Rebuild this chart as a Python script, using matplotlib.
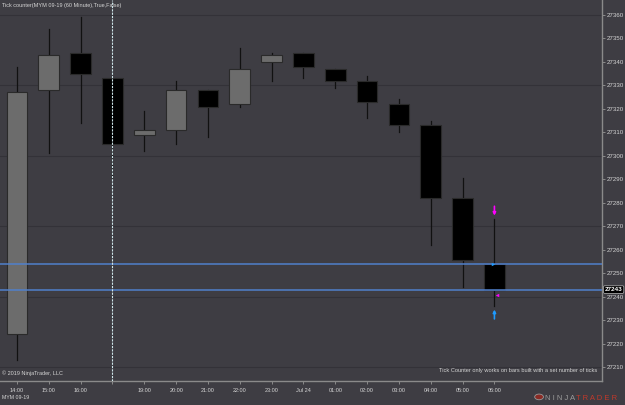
import matplotlib
matplotlib.use('Agg')
import matplotlib.pyplot as plt
from matplotlib.patches import Rectangle, Circle

# hourly MYM 09-19 candles (open, high, low, close)
opens = [27224, 27328, 27344, 27333, 27309, 27311, 27328, 27322, 27340, 27344, 27337, 27332, 27322, 27313, 27282, 27254]
highs = [27338, 27354, 27359, 27334, 27319, 27332, 27328, 27346, 27344, 27344, 27337, 27334, 27324, 27315, 27290.5, 27273]
lows = [27213, 27301, 27314, 27290.5, 27302, 27305, 27308, 27321, 27332, 27333, 27329, 27316, 27310, 27262, 27244, 27236]
closes = [27327, 27343, 27335, 27305, 27311, 27328, 27321, 27337, 27343, 27338, 27332, 27323, 27313, 27282, 27255.5, 27243]
time_labels = ['14:00', '15:00', '16:00', '', '19:00', '20:00', '21:00', '22:00', '23:00',
               'Jul 24', '01:00', '02:00', '03:00', '04:00', '05:00', '06:00']
price_ticks = list(range(27210, 27361, 10))
grid_levels = [27210, 27240, 27270, 27300, 27330, 27360]
h_lines = [27254, 27243]
last_price = 27243
session_break = 3

BG = '#3e3d43'
TXT = '#d4d4d4'
FONT = 'Liberation Sans'

fig = plt.figure(figsize=(6.25, 4.05), dpi=100)
fig.patch.set_facecolor(BG)
ax = fig.add_axes([0, 0.0593, 0.9632, 0.9407])
ax.set_facecolor(BG)
ax.set_xlim(-0.534, 18.38)
ax.set_ylim(27204.05, 27366.4)

for lv in grid_levels:
    ax.axhline(lv, color='#333238', lw=0.8, zorder=0)

w = 0.65
for i, (o, h, l, c) in enumerate(zip(opens, highs, lows, closes)):
    up = c >= o
    ax.plot([i, i], [l, h], color='#111111', lw=0.9, zorder=2)
    ax.add_patch(Rectangle((i - w / 2, min(o, c)), w, abs(c - o),
                           facecolor='#6c6c6c' if up else '#000000',
                           edgecolor='#2a2a2a', lw=0.8, zorder=3))

for lv in h_lines:
    ax.axhline(lv, color='#5080cc', lw=1.1, zorder=4)

ax.axvline(session_break, color='#cfe6ea', lw=0.8, ls=(0, (2, 1)), zorder=5)

# tick counter arrows on last bar
last = len(opens) - 1
arrow = dict(arrowstyle='-|>', lw=1.2, mutation_scale=4, shrinkA=0, shrinkB=0)
ax.annotate('', xy=(last, highs[last] + 1.5), xytext=(last, highs[last] + 5.5),
            arrowprops=dict(color='#ff00ff', **arrow), zorder=6)
ax.annotate('', xy=(last, lows[last] - 1.5), xytext=(last, lows[last] - 5.5),
            arrowprops=dict(color='#1e9bff', **arrow), zorder=6)
ax.plot(last - 0.05, 27254, marker='>', ms=2.5, color='#1e9bff', mec='none', zorder=6)
ax.plot(last + 0.07, 27240.5, marker='<', ms=2.5, color='#ff00ff', mec='none', zorder=6)

ax.yaxis.tick_right()
ax.set_yticks(price_ticks)
ax.set_yticklabels([str(t) for t in price_ticks])
ax.set_xticks(range(len(time_labels)))
ax.set_xticklabels(time_labels)
ax.tick_params(axis='y', colors='#8a8a8a', labelcolor=TXT, labelsize=4.4, length=2.5, width=0.7, pad=0.8)
ax.tick_params(axis='x', colors='#8a8a8a', labelcolor=TXT, labelsize=4.0, length=2.5, width=0.7, pad=2.5)
for lab in ax.get_xticklabels() + ax.get_yticklabels():
    lab.set_fontfamily(FONT)
for s in ['top', 'left']:
    ax.spines[s].set_visible(False)
for s in ['bottom', 'right']:
    ax.spines[s].set_color('#8a8a8a')
    ax.spines[s].set_linewidth(1)

ax.text(0.003, 0.993, 'Tick counter(MYM 09-19 (60 Minute),True,False)', transform=ax.transAxes,
        ha='left', va='top', fontsize=4.0, color=TXT, family=FONT)
ax.text(0.003, 0.012, '\u00a9 2019 NinjaTrader, LLC', transform=ax.transAxes,
        ha='left', va='bottom', fontsize=4.0, color=TXT, family=FONT)
ax.text(0.992, 0.022, 'Tick Counter only works on bars built with a set number of ticks', transform=ax.transAxes,
        ha='right', va='bottom', fontsize=4.1, color=TXT, family=FONT)

ax.annotate(str(last_price), xy=(1.0, last_price), xycoords=('axes fraction', 'data'),
            xytext=(2.0, 0), textcoords='offset points', ha='left', va='center',
            fontsize=4.6, color='white', family=FONT, fontweight='bold',
            bbox=dict(boxstyle='round,pad=0.2', fc='black', ec='#bbbbbb', lw=0.5))

fig.text(0.004, 0.012, 'MYM 09-19', ha='left', va='bottom', fontsize=3.8, color=TXT, family=FONT)
fig.patches.append(Circle((0.8625, 0.02), 0.007, transform=fig.transFigure,
                          fc='#8a2b25', ec='#9a9a9a', lw=0.6))
fig.text(0.872, 0.007, 'N I N J A', ha='left', va='bottom', fontsize=5.5, color='#9a9a9a', family=FONT)
fig.text(0.921, 0.007, 'T R A D E R', ha='left', va='bottom', fontsize=5.5, color='#c0392b', family=FONT)

fig.savefig('out.png', dpi=100, facecolor=BG)
